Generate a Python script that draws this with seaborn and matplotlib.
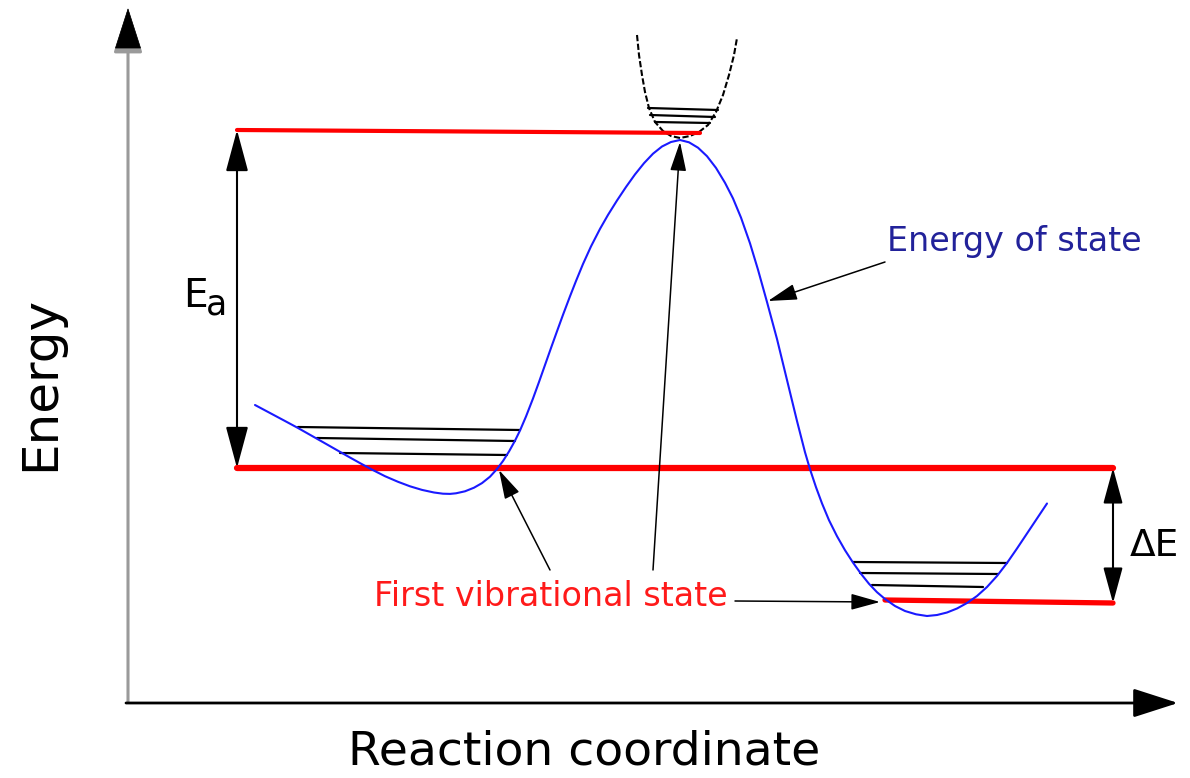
import numpy as np
import pandas as pd
import matplotlib
matplotlib.use("Agg")
import matplotlib.pyplot as plt
from matplotlib.patches import FancyArrowPatch
import seaborn as sns

# ---- data (picture coordinates) ----
curve_x = [255, 270, 285, 298, 310, 322, 335, 348, 360, 372, 385, 398, 410, 422, 434,
           443, 450, 456, 465, 474, 482, 490, 497, 503, 509, 515, 520, 526, 533, 539,
           545, 551, 557, 563, 570, 576, 583, 591, 600, 608, 617, 626, 635, 644, 653,
           662, 671, 680, 689, 698, 707, 716, 725, 733, 741, 750, 758, 767, 777, 787,
           797, 805, 810, 816, 822, 829, 837, 845, 853, 861, 869, 877, 885, 895, 905,
           916, 927, 937, 947, 957, 967, 977, 987, 997, 1007, 1017, 1027, 1037, 1047]
curve_y = [405, 413, 421, 428, 434.8, 441.6, 449, 456.4, 463.1, 469.6, 476.2, 481.8, 486.3, 489.9, 492.5,
           493.7, 493.9, 493.3, 491.3, 487.7, 483.1, 476.7, 469, 461, 451.5, 440.7, 430.5, 416.5, 398.5, 382,
           365, 348, 331.3, 314.8, 296.3, 281, 264, 246.4, 228.9, 214.9, 200.5, 187, 174.4, 163.2, 153.7,
           146.5, 142, 140, 142.3, 147.7, 156.2, 167.9, 182.8, 198.4, 217.6, 243.3, 269.7, 302, 339, 380,
           421, 452.2, 469.2, 487.2, 503.4, 520.2, 536.2, 550.2, 562.6, 573.8, 583.8, 592.2, 599, 606, 611,
           614.3, 616, 615, 612.5, 608.5, 603, 596, 587, 576, 563, 548.5, 533.5, 518.5, 503.5]

ts_x = [637, 639, 642, 645, 649, 655, 663, 671, 680, 690, 699, 708, 716, 723, 729, 734, 737]
ts_y = [35, 55, 75, 92, 108, 122, 131, 136, 138, 136, 132, 125, 112, 95, 75, 55, 38]

# vibrational levels: (x0, x1, y0, y1)
vib_x0 = [298, 317, 340, 853, 860, 872, 648, 650, 655]
vib_x1 = [520, 515, 507, 1007, 998, 983, 718, 715, 710]
vib_y0 = [427, 438, 453, 562, 573, 585, 108, 115, 122]
vib_y1 = [430, 441, 455, 563, 574, 587, 110, 117, 123]

# red energy levels
lvl_x0 = [237, 237, 885]
lvl_x1 = [700, 1113, 1113]
lvl_y0 = [130, 468, 600]
lvl_y1 = [133, 468, 603]
lvl_w = [3.0, 4.5, 3.8]

sns.set_theme(style="white")
plt.rcParams["font.family"] = ["DejaVu Sans"]

fig = plt.figure(figsize=(11.9, 7.78), dpi=100)
ax = fig.add_axes([0, 0, 1, 1])
ax.set_xlim(0, 1190)
ax.set_ylim(778, 0)
ax.axis("off")

def arrow(tail, tip, style="-|>", hl=18, hw=5, lw=1.1, color="black"):
    st = f"{style},head_length={hl},head_width={hw}"
    p = FancyArrowPatch(tail, tip, arrowstyle=st, mutation_scale=1, lw=lw,
                        color=color, shrinkA=0, shrinkB=0, zorder=6)
    ax.add_patch(p)

# axes arrows
arrow((128, 702), (128, 8), hl=28, hw=9, lw=2.2, color="#9a9a9a")
ax.add_patch(FancyArrowPatch((128, 8 + 38), (128, 8), arrowstyle="-|>,head_length=28,head_width=9",
                             mutation_scale=1, lw=0.5, color="black", shrinkA=0, shrinkB=0, zorder=7))
arrow((126, 703), (1178, 703), hl=28, hw=9, lw=2.0, color="black")

# red levels
for x0, x1, y0, y1, w in zip(lvl_x0, lvl_x1, lvl_y0, lvl_y1, lvl_w):
    sns.lineplot(x=[x0, x1], y=[y0, y1], ax=ax, color="#ff0000", lw=w,
                 estimator=None, sort=False, zorder=3)

# vibrational levels
for x0, x1, y0, y1 in zip(vib_x0, vib_x1, vib_y0, vib_y1):
    sns.lineplot(x=[x0, x1], y=[y0, y1], ax=ax, color="black", lw=1.6,
                 estimator=None, sort=False, zorder=2)

# transition-state well (dashed)
sns.lineplot(x=ts_x, y=ts_y, ax=ax, color="black", lw=1.5, linestyle=(0, (3, 1.2)),
             estimator=None, sort=False, zorder=2)

# energy curve
sns.lineplot(x=curve_x, y=curve_y, ax=ax, color="#1a1aff", lw=1.5,
             estimator=None, sort=False, zorder=4)
ax.get_lines()[-1].set_solid_joinstyle("round")

# Ea and dE double arrows
arrow((237, 130), (237, 468), style="<|-|>", hl=26, hw=7, lw=1.5)
arrow((1113, 468), (1113, 603), style="<|-|>", hl=22, hw=6, lw=1.5)

# annotation arrows
arrow((885, 262), (768, 301), hl=18, hw=5, lw=1.1)
arrow((550, 570), (499, 470), hl=18, hw=5, lw=1.1)
arrow((653, 570), (680, 142), hl=18, hw=5, lw=1.1)
arrow((735, 601), (880, 602), hl=18, hw=5, lw=1.1)

# texts
ax.text(584, 752, "Reaction coordinate", fontsize=34, ha="center", va="center", color="black")
ax.text(40, 383, "Energy", fontsize=36, rotation=90, ha="center", va="center", color="black")
ax.text(195, 296, "E", fontsize=28, ha="center", va="center", color="black")
ax.text(216, 304, "a", fontsize=25, ha="center", va="center", color="black")
ax.text(1154, 546, "ΔE", fontsize=27, ha="center", va="center", color="black")
ax.text(1014, 241, "Energy of state", fontsize=24, ha="center", va="center", color="#22229a")
ax.text(551, 596, "First vibrational state", fontsize=24, ha="center", va="center", color="#ff1a1a")

fig.savefig("out.png", dpi=100)
